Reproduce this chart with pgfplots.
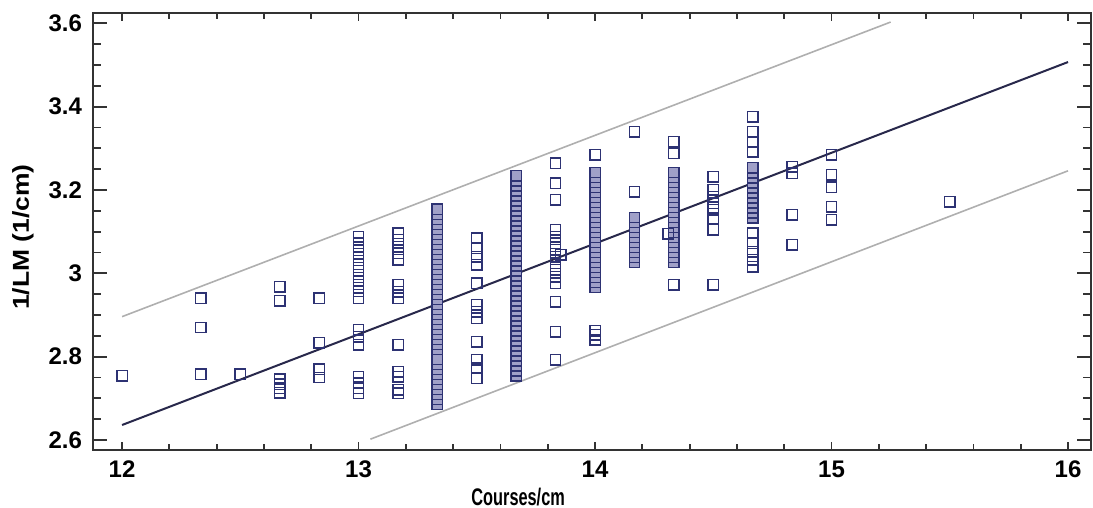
\documentclass[border=0pt]{standalone}
\usepackage{pgfplots}
\pgfplotsset{compat=1.18}
\usepackage{fontspec}
\setmainfont{Liberation Sans}
\definecolor{mk}{RGB}{45,50,115}
\definecolor{mkfill}{RGB}{160,160,200}
\definecolor{fitc}{RGB}{40,40,75}
\definecolor{bandc}{RGB}{175,175,175}
\begin{document}
\begin{tikzpicture}
\useasboundingbox (-46.5bp,-29bp) rectangle (500bp,225bp);
\begin{axis}[
  at={(0,0)}, anchor=south west,
  scale only axis, width=499bp, height=218.65bp,
  xmin=11.877, xmax=16.097, ymin=2.576, ymax=3.6254,
  xtick={12,13,14,15,16}, ytick={2.6,2.8,3,3.2,3.4,3.6},
  minor x tick num=4, minor y tick num=3,
  tick align=inside,
  major tick length=7bp, minor tick length=4bp,
  xtick style={/pgfplots/major tick length=4bp,/pgfplots/minor tick length=3bp},
  tick style={line width=0.9bp, black!80},
  axis line style={line width=1bp, black!80},
  /pgf/number format/assume math mode=true,
  ticklabel style={font=\bfseries\fontsize{12bp}{14bp}\selectfont},
  xticklabel style={yshift=-2bp},
  yticklabel style={xshift=-2bp},
  xlabel={Courses/cm},
  ylabel={1/LM (1/cm)},
  xlabel style={font=\bfseries\fontsize{12bp}{14bp}\selectfont, at={(axis description cs:0.426,-0.1075)}, anchor=center, xscale=0.68},
  ylabel style={font=\bfseries\fontsize{11.5bp}{13bp}\selectfont, at={(axis description cs:-0.0701,0.487)}, anchor=center, xscale=1.15},
  clip=false,
]
% prediction bands
\addplot[bandc, line width=0.8bp] coordinates {(12,2.896) (15.25,3.603)};
\addplot[bandc, line width=0.8bp] coordinates {(13.05,2.602) (16,3.246)};
% fitted line
\addplot[fitc, line width=1bp] coordinates {(12,2.636) (16,3.507)};
% observations in dense columns
\addplot[only marks, mark=square*, mark size=2.6bp, mark options={draw=mk, line width=0.7bp, fill=mkfill}] coordinates {
(13.333,2.686) (13.333,2.698) (13.333,2.710) (13.333,2.722) (13.333,2.734) (13.333,2.746) (13.333,2.758) (13.333,2.770) (13.333,2.782) (13.333,2.794)
(13.333,2.818) (13.333,2.830) (13.333,2.842) (13.333,2.854) (13.333,2.866) (13.333,2.878) (13.333,2.890) (13.333,2.902) (13.333,2.914) (13.333,2.926)
(13.333,2.938) (13.333,2.950) (13.333,2.962) (13.333,2.974) (13.333,2.986) (13.333,2.998) (13.333,3.010) (13.333,3.022) (13.333,3.034) (13.333,3.046)
(13.333,3.058) (13.333,3.070) (13.333,3.082) (13.333,3.094) (13.333,3.106) (13.333,3.118) (13.333,3.130) (13.333,3.142) (13.333,3.154)
(13.667,2.754) (13.667,2.766) (13.667,2.778) (13.667,2.790) (13.667,2.802) (13.667,2.814) (13.667,2.826) (13.667,2.838) (13.667,2.850) (13.667,2.862)
(13.667,2.874) (13.667,2.886) (13.667,2.898) (13.667,2.910) (13.667,2.922) (13.667,2.934) (13.667,2.946) (13.667,2.958) (13.667,2.970) (13.667,2.982)
(13.667,2.994) (13.667,3.006) (13.667,3.018) (13.667,3.030) (13.667,3.042) (13.667,3.054) (13.667,3.066) (13.667,3.078) (13.667,3.090) (13.667,3.102)
(13.667,3.114) (13.667,3.126) (13.667,3.138) (13.667,3.150) (13.667,3.162) (13.667,3.174) (13.667,3.186) (13.667,3.198) (13.667,3.210) (13.667,3.222) (13.667,3.234)
(14,2.966) (14,2.978) (14,2.990) (14,3.002) (14,3.014) (14,3.026) (14,3.038) (14,3.050) (14,3.062) (14,3.074) (14,3.086) (14,3.098)
(14,3.110) (14,3.122) (14,3.134) (14,3.146) (14,3.158) (14,3.170) (14,3.182) (14,3.194) (14,3.206) (14,3.218) (14,3.230) (14,3.242)
(14.167,3.026) (14.167,3.038) (14.167,3.050) (14.167,3.062) (14.167,3.074) (14.167,3.086) (14.167,3.098) (14.167,3.110) (14.167,3.122) (14.167,3.134)
(14.333,3.026) (14.333,3.038) (14.333,3.050) (14.333,3.062) (14.333,3.074) (14.333,3.086) (14.333,3.098) (14.333,3.110) (14.333,3.122) (14.333,3.134)
(14.333,3.146) (14.333,3.158) (14.333,3.170) (14.333,3.182) (14.333,3.194) (14.333,3.206) (14.333,3.218) (14.333,3.230) (14.333,3.242)
(14.667,3.133) (14.667,3.145) (14.667,3.157) (14.667,3.169) (14.667,3.181) (14.667,3.193) (14.667,3.205) (14.667,3.217) (14.667,3.229) (14.667,3.241) (14.667,3.253)
};
% other observations
\addplot[only marks, mark=square, mark size=2.6bp, mark options={draw=mk, line width=0.7bp, fill=none}] coordinates {
(12,2.754)
(12.333,2.94) (12.333,2.87) (12.333,2.758)
(12.5,2.758)
(12.667,2.968) (12.667,2.934) (12.667,2.746) (12.667,2.734) (12.667,2.724) (12.667,2.713)
(12.833,2.94) (12.833,2.833) (12.833,2.770) (12.833,2.750)
(13,3.088) (13,3.072) (13,3.055) (13,3.039) (13,3.022) (13,3.006) (13,2.990) (13,2.973) (13,2.957) (13,2.940)
(13,2.864) (13,2.848) (13,2.828)
(13,2.752) (13,2.736) (13,2.724) (13,2.712)
(13.167,3.096) (13.167,3.080) (13.167,3.064) (13.167,3.048) (13.167,3.032)
(13.167,2.972) (13.167,2.956) (13.167,2.940) (13.167,2.828)
(13.167,2.764) (13.167,2.752) (13.167,2.720) (13.167,2.712)
(13.5,3.084) (13.5,3.060) (13.5,3.040) (13.5,3.020) (13.5,2.976) (13.5,2.924) (13.5,2.908) (13.5,2.892) (13.5,2.836) (13.5,2.792) (13.5,2.772) (13.5,2.748)
(13.833,3.264) (13.833,3.216) (13.833,3.176) (13.833,3.104) (13.833,3.088) (13.833,3.072) (13.833,3.056) (13.833,3.040) (13.833,3.024) (13.833,3.008)
(13.833,2.992) (13.833,2.976) (13.833,2.932) (13.833,2.860) (13.833,2.792)
(13.855,3.044)
(14,3.284) (14,2.862) (14,2.852) (14,2.840)
(14.167,3.340) (14.167,3.196)
(14.333,3.316) (14.333,3.288) (14.333,2.972) (14.31,3.095)
(14.5,3.232) (14.5,3.200) (14.5,3.184) (14.5,3.168) (14.5,3.152) (14.5,3.132) (14.5,3.104) (14.5,2.972)
(14.667,3.376) (14.667,3.340) (14.667,3.316) (14.667,3.292)
(14.667,3.096) (14.667,3.072) (14.667,3.052) (14.667,3.032) (14.667,3.016)
(14.833,3.256) (14.833,3.240) (14.833,3.140) (14.833,3.068)
(15,3.284) (15,3.236) (15,3.207) (15,3.160) (15,3.128)
(15.5,3.172)
};
\end{axis}
\end{tikzpicture}
\end{document}
